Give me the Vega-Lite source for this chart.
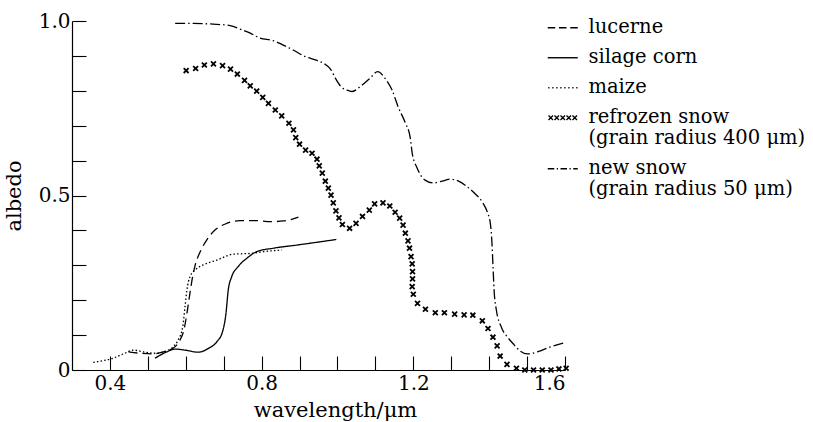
{
  "$schema": "https://vega.github.io/schema/vega-lite/v6.json",
  "width": 493,
  "height": 349,
  "autosize": {"type": "none"},
  "padding": {"left": 72, "top": 21, "right": 248, "bottom": 52},
  "background": "white",
  "config": {
    "view": {"stroke": null},
    "font": "DejaVu Serif",
    "axis": {
      "labelFont": "DejaVu Serif", "titleFont": "DejaVu Serif",
      "labelFontSize": 20, "titleFontSize": 21, "titleFontWeight": "normal",
      "labelColor": "#000000", "titleColor": "#000000",
      "domainColor": "black", "tickColor": "black", "domainWidth": 1.2, "tickWidth": 1.1,
      "grid": false, "tickSize": -14
    }
  },
  "data": {"values": [
    {"series": "lucerne", "wavelength": 0.449, "albedo": 0.052},
    {"series": "lucerne", "wavelength": 0.479, "albedo": 0.048},
    {"series": "lucerne", "wavelength": 0.510, "albedo": 0.046},
    {"series": "lucerne", "wavelength": 0.541, "albedo": 0.052},
    {"series": "lucerne", "wavelength": 0.572, "albedo": 0.067},
    {"series": "lucerne", "wavelength": 0.585, "albedo": 0.086},
    {"series": "lucerne", "wavelength": 0.596, "albedo": 0.119},
    {"series": "lucerne", "wavelength": 0.603, "albedo": 0.162},
    {"series": "lucerne", "wavelength": 0.611, "albedo": 0.220},
    {"series": "lucerne", "wavelength": 0.618, "albedo": 0.267},
    {"series": "lucerne", "wavelength": 0.625, "albedo": 0.301},
    {"series": "lucerne", "wavelength": 0.638, "albedo": 0.339},
    {"series": "lucerne", "wavelength": 0.655, "albedo": 0.372},
    {"series": "lucerne", "wavelength": 0.677, "albedo": 0.401},
    {"series": "lucerne", "wavelength": 0.708, "albedo": 0.420},
    {"series": "lucerne", "wavelength": 0.743, "albedo": 0.428},
    {"series": "lucerne", "wavelength": 0.787, "albedo": 0.428},
    {"series": "lucerne", "wavelength": 0.822, "albedo": 0.425},
    {"series": "lucerne", "wavelength": 0.858, "albedo": 0.427},
    {"series": "lucerne", "wavelength": 0.897, "albedo": 0.438},
    {"series": "silage corn", "wavelength": 0.519, "albedo": 0.034},
    {"series": "silage corn", "wavelength": 0.550, "albedo": 0.052},
    {"series": "silage corn", "wavelength": 0.572, "albedo": 0.060},
    {"series": "silage corn", "wavelength": 0.598, "albedo": 0.057},
    {"series": "silage corn", "wavelength": 0.633, "albedo": 0.051},
    {"series": "silage corn", "wavelength": 0.660, "albedo": 0.062},
    {"series": "silage corn", "wavelength": 0.682, "albedo": 0.081},
    {"series": "silage corn", "wavelength": 0.697, "albedo": 0.110},
    {"series": "silage corn", "wavelength": 0.706, "albedo": 0.162},
    {"series": "silage corn", "wavelength": 0.712, "albedo": 0.229},
    {"series": "silage corn", "wavelength": 0.721, "albedo": 0.267},
    {"series": "silage corn", "wavelength": 0.738, "albedo": 0.296},
    {"series": "silage corn", "wavelength": 0.763, "albedo": 0.322},
    {"series": "silage corn", "wavelength": 0.787, "albedo": 0.339},
    {"series": "silage corn", "wavelength": 0.831, "albedo": 0.349},
    {"series": "silage corn", "wavelength": 0.893, "albedo": 0.358},
    {"series": "silage corn", "wavelength": 0.946, "albedo": 0.366},
    {"series": "silage corn", "wavelength": 0.997, "albedo": 0.374},
    {"series": "maize", "wavelength": 0.356, "albedo": 0.022},
    {"series": "maize", "wavelength": 0.383, "albedo": 0.027},
    {"series": "maize", "wavelength": 0.409, "albedo": 0.034},
    {"series": "maize", "wavelength": 0.435, "albedo": 0.046},
    {"series": "maize", "wavelength": 0.462, "albedo": 0.057},
    {"series": "maize", "wavelength": 0.488, "albedo": 0.052},
    {"series": "maize", "wavelength": 0.515, "albedo": 0.048},
    {"series": "maize", "wavelength": 0.541, "albedo": 0.052},
    {"series": "maize", "wavelength": 0.567, "albedo": 0.067},
    {"series": "maize", "wavelength": 0.580, "albedo": 0.086},
    {"series": "maize", "wavelength": 0.592, "albedo": 0.124},
    {"series": "maize", "wavelength": 0.598, "albedo": 0.181},
    {"series": "maize", "wavelength": 0.603, "albedo": 0.229},
    {"series": "maize", "wavelength": 0.611, "albedo": 0.267},
    {"series": "maize", "wavelength": 0.625, "albedo": 0.287},
    {"series": "maize", "wavelength": 0.646, "albedo": 0.301},
    {"series": "maize", "wavelength": 0.682, "albedo": 0.315},
    {"series": "maize", "wavelength": 0.726, "albedo": 0.332},
    {"series": "maize", "wavelength": 0.770, "albedo": 0.334},
    {"series": "maize", "wavelength": 0.805, "albedo": 0.339},
    {"series": "maize", "wavelength": 0.853, "albedo": 0.344},
    {"series": "refrozen snow", "wavelength": 0.601, "albedo": 0.858},
    {"series": "refrozen snow", "wavelength": 0.626, "albedo": 0.864},
    {"series": "refrozen snow", "wavelength": 0.649, "albedo": 0.874},
    {"series": "refrozen snow", "wavelength": 0.673, "albedo": 0.877},
    {"series": "refrozen snow", "wavelength": 0.697, "albedo": 0.872},
    {"series": "refrozen snow", "wavelength": 0.718, "albedo": 0.862},
    {"series": "refrozen snow", "wavelength": 0.736, "albedo": 0.848},
    {"series": "refrozen snow", "wavelength": 0.755, "albedo": 0.830},
    {"series": "refrozen snow", "wavelength": 0.770, "albedo": 0.814},
    {"series": "refrozen snow", "wavelength": 0.787, "albedo": 0.799},
    {"series": "refrozen snow", "wavelength": 0.803, "albedo": 0.781},
    {"series": "refrozen snow", "wavelength": 0.818, "albedo": 0.764},
    {"series": "refrozen snow", "wavelength": 0.836, "albedo": 0.745},
    {"series": "refrozen snow", "wavelength": 0.853, "albedo": 0.728},
    {"series": "refrozen snow", "wavelength": 0.872, "albedo": 0.707},
    {"series": "refrozen snow", "wavelength": 0.884, "albedo": 0.688},
    {"series": "refrozen snow", "wavelength": 0.890, "albedo": 0.666},
    {"series": "refrozen snow", "wavelength": 0.900, "albedo": 0.647},
    {"series": "refrozen snow", "wavelength": 0.916, "albedo": 0.630},
    {"series": "refrozen snow", "wavelength": 0.933, "albedo": 0.621},
    {"series": "refrozen snow", "wavelength": 0.946, "albedo": 0.604},
    {"series": "refrozen snow", "wavelength": 0.952, "albedo": 0.585},
    {"series": "refrozen snow", "wavelength": 0.960, "albedo": 0.564},
    {"series": "refrozen snow", "wavelength": 0.968, "albedo": 0.541},
    {"series": "refrozen snow", "wavelength": 0.976, "albedo": 0.521},
    {"series": "refrozen snow", "wavelength": 0.983, "albedo": 0.501},
    {"series": "refrozen snow", "wavelength": 0.989, "albedo": 0.479},
    {"series": "refrozen snow", "wavelength": 0.996, "albedo": 0.456},
    {"series": "refrozen snow", "wavelength": 1.004, "albedo": 0.436},
    {"series": "refrozen snow", "wavelength": 1.013, "albedo": 0.417},
    {"series": "refrozen snow", "wavelength": 1.032, "albedo": 0.406},
    {"series": "refrozen snow", "wavelength": 1.049, "albedo": 0.420},
    {"series": "refrozen snow", "wavelength": 1.066, "albedo": 0.440},
    {"series": "refrozen snow", "wavelength": 1.084, "albedo": 0.458},
    {"series": "refrozen snow", "wavelength": 1.098, "albedo": 0.476},
    {"series": "refrozen snow", "wavelength": 1.120, "albedo": 0.479},
    {"series": "refrozen snow", "wavelength": 1.138, "albedo": 0.470},
    {"series": "refrozen snow", "wavelength": 1.152, "albedo": 0.452},
    {"series": "refrozen snow", "wavelength": 1.164, "albedo": 0.435},
    {"series": "refrozen snow", "wavelength": 1.173, "albedo": 0.415},
    {"series": "refrozen snow", "wavelength": 1.179, "albedo": 0.392},
    {"series": "refrozen snow", "wavelength": 1.186, "albedo": 0.370},
    {"series": "refrozen snow", "wavelength": 1.190, "albedo": 0.349},
    {"series": "refrozen snow", "wavelength": 1.194, "albedo": 0.325},
    {"series": "refrozen snow", "wavelength": 1.197, "albedo": 0.304},
    {"series": "refrozen snow", "wavelength": 1.198, "albedo": 0.282},
    {"series": "refrozen snow", "wavelength": 1.198, "albedo": 0.261},
    {"series": "refrozen snow", "wavelength": 1.197, "albedo": 0.239},
    {"series": "refrozen snow", "wavelength": 1.200, "albedo": 0.217},
    {"series": "refrozen snow", "wavelength": 1.211, "albedo": 0.191},
    {"series": "refrozen snow", "wavelength": 1.232, "albedo": 0.174},
    {"series": "refrozen snow", "wavelength": 1.258, "albedo": 0.164},
    {"series": "refrozen snow", "wavelength": 1.282, "albedo": 0.164},
    {"series": "refrozen snow", "wavelength": 1.309, "albedo": 0.160},
    {"series": "refrozen snow", "wavelength": 1.334, "albedo": 0.158},
    {"series": "refrozen snow", "wavelength": 1.357, "albedo": 0.157},
    {"series": "refrozen snow", "wavelength": 1.382, "albedo": 0.141},
    {"series": "refrozen snow", "wavelength": 1.397, "albedo": 0.119},
    {"series": "refrozen snow", "wavelength": 1.410, "albedo": 0.094},
    {"series": "refrozen snow", "wavelength": 1.421, "albedo": 0.069},
    {"series": "refrozen snow", "wavelength": 1.429, "albedo": 0.040},
    {"series": "refrozen snow", "wavelength": 1.447, "albedo": 0.016},
    {"series": "refrozen snow", "wavelength": 1.472, "albedo": 0.005},
    {"series": "refrozen snow", "wavelength": 1.494, "albedo": 0.0},
    {"series": "refrozen snow", "wavelength": 1.517, "albedo": 0.0},
    {"series": "refrozen snow", "wavelength": 1.540, "albedo": 0.0},
    {"series": "refrozen snow", "wavelength": 1.563, "albedo": 0.0},
    {"series": "refrozen snow", "wavelength": 1.584, "albedo": 0.003},
    {"series": "refrozen snow", "wavelength": 1.603, "albedo": 0.005},
    {"series": "new snow", "wavelength": 0.572, "albedo": 0.993},
    {"series": "new snow", "wavelength": 0.619, "albedo": 0.993},
    {"series": "new snow", "wavelength": 0.672, "albedo": 0.991},
    {"series": "new snow", "wavelength": 0.717, "albedo": 0.987},
    {"series": "new snow", "wavelength": 0.743, "albedo": 0.977},
    {"series": "new snow", "wavelength": 0.770, "albedo": 0.965},
    {"series": "new snow", "wavelength": 0.796, "albedo": 0.951},
    {"series": "new snow", "wavelength": 0.830, "albedo": 0.944},
    {"series": "new snow", "wavelength": 0.857, "albedo": 0.931},
    {"series": "new snow", "wavelength": 0.883, "albedo": 0.917},
    {"series": "new snow", "wavelength": 0.915, "albedo": 0.898},
    {"series": "new snow", "wavelength": 0.946, "albedo": 0.887},
    {"series": "new snow", "wavelength": 0.970, "albedo": 0.874},
    {"series": "new snow", "wavelength": 0.983, "albedo": 0.860},
    {"series": "new snow", "wavelength": 0.994, "albedo": 0.837},
    {"series": "new snow", "wavelength": 1.010, "albedo": 0.811},
    {"series": "new snow", "wavelength": 1.028, "albedo": 0.801},
    {"series": "new snow", "wavelength": 1.039, "albedo": 0.798},
    {"series": "new snow", "wavelength": 1.060, "albedo": 0.812},
    {"series": "new snow", "wavelength": 1.086, "albedo": 0.836},
    {"series": "new snow", "wavelength": 1.106, "albedo": 0.855},
    {"series": "new snow", "wavelength": 1.126, "albedo": 0.835},
    {"series": "new snow", "wavelength": 1.144, "albedo": 0.802},
    {"series": "new snow", "wavelength": 1.160, "albedo": 0.754},
    {"series": "new snow", "wavelength": 1.179, "albedo": 0.708},
    {"series": "new snow", "wavelength": 1.192, "albedo": 0.665},
    {"series": "new snow", "wavelength": 1.197, "albedo": 0.622},
    {"series": "new snow", "wavelength": 1.210, "albedo": 0.579},
    {"series": "new snow", "wavelength": 1.231, "albedo": 0.544},
    {"series": "new snow", "wavelength": 1.252, "albedo": 0.536},
    {"series": "new snow", "wavelength": 1.279, "albedo": 0.542},
    {"series": "new snow", "wavelength": 1.297, "albedo": 0.547},
    {"series": "new snow", "wavelength": 1.318, "albedo": 0.542},
    {"series": "new snow", "wavelength": 1.340, "albedo": 0.527},
    {"series": "new snow", "wavelength": 1.361, "albedo": 0.507},
    {"series": "new snow", "wavelength": 1.382, "albedo": 0.481},
    {"series": "new snow", "wavelength": 1.395, "albedo": 0.453},
    {"series": "new snow", "wavelength": 1.403, "albedo": 0.421},
    {"series": "new snow", "wavelength": 1.407, "albedo": 0.372},
    {"series": "new snow", "wavelength": 1.410, "albedo": 0.301},
    {"series": "new snow", "wavelength": 1.413, "albedo": 0.229},
    {"series": "new snow", "wavelength": 1.419, "albedo": 0.172},
    {"series": "new snow", "wavelength": 1.432, "albedo": 0.123},
    {"series": "new snow", "wavelength": 1.450, "albedo": 0.092},
    {"series": "new snow", "wavelength": 1.466, "albedo": 0.072},
    {"series": "new snow", "wavelength": 1.482, "albedo": 0.054},
    {"series": "new snow", "wavelength": 1.501, "albedo": 0.046},
    {"series": "new snow", "wavelength": 1.527, "albedo": 0.052},
    {"series": "new snow", "wavelength": 1.561, "albedo": 0.066},
    {"series": "new snow", "wavelength": 1.601, "albedo": 0.079}
  ]},
  "encoding": {
    "x": {
      "field": "wavelength", "type": "quantitative",
      "scale": {"domain": [0.3, 1.6], "nice": false, "zero": false},
      "axis": {
        "title": "wavelength/μm",
        "values": [0.4, 0.5, 0.6, 0.7, 0.8, 0.9, 1.0, 1.1, 1.2, 1.3, 1.4, 1.5, 1.6],
        "labelExpr": "indexof(['0.4','0.8','1.2','1.6'], format(datum.value, '.1f')) >= 0 ? format(datum.value, '.1f') : ''",
        "labelPadding": 17, "titlePadding": 6, "titleX": 263, "titleColor": "#000000"
      }
    },
    "y": {
      "field": "albedo", "type": "quantitative",
      "scale": {"domain": [0, 1], "nice": false},
      "axis": {
        "title": "albedo",
        "values": [0, 0.1, 0.2, 0.3, 0.4, 0.5, 0.6, 0.7, 0.8, 0.9, 1.0],
        "labelExpr": "datum.value == 0 ? '0' : datum.value == 0.5 ? '0.5' : datum.value == 1 ? '1.0' : ''",
        "labelPadding": 16, "titlePadding": 14, "titleColor": "#000000"
      }
    }
  },
  "layer": [
    {
      "transform": [{"filter": "datum.series != 'refrozen snow'"}],
      "mark": {"type": "line", "color": "black", "strokeWidth": 1.3, "interpolate": "monotone"},
      "encoding": {
        "strokeDash": {
          "field": "series", "type": "nominal",
          "scale": {"domain": ["lucerne", "silage corn", "maize", "new snow"], "range": [[9, 5], [1, 0], [1.5, 2.2], [10, 3, 1.5, 3]]},
          "legend": null
        }
      }
    },
    {
      "transform": [{"filter": "datum.series == 'refrozen snow'"}],
      "mark": {"type": "point", "shape": "M-1,-1L1,1M-1,1L1,-1", "size": 24, "filled": false, "color": "black", "strokeWidth": 1.8, "opacity": 1}
    },
    {
      "transform": [{"filter": "datum.albedo > 5"}],
      "mark": {"type": "point", "filled": false, "color": "black", "size": 100, "strokeWidth": 1.3, "opacity": 1},
      "encoding": {
        "shape": {
          "field": "series", "type": "nominal",
          "scale": {
            "domain": ["lucerne", "silage corn", "maize", "refrozen snow", "new snow"],
            "range": [
              "M-3,-1H-1.5M-0.75,-1H0.75M1.5,-1H3",
              "M-3,-1H3",
              "M-2.9,-1h0.25M-2.1,-1h0.25M-1.3,-1h0.25M-0.5,-1h0.25M0.3,-1h0.25M1.1,-1h0.25M1.9,-1h0.25M2.7,-1h0.25",
              "M-2.85,-1.45L-1.95,-0.55M-2.85,-0.55L-1.95,-1.45M-1.65,-1.45L-0.75,-0.55M-1.65,-0.55L-0.75,-1.45M-0.45,-1.45L0.45,-0.55M-0.45,-0.55L0.45,-1.45M0.75,-1.45L1.65,-0.55M0.75,-0.55L1.65,-1.45M1.95,-1.45L2.85,-0.55M1.95,-0.55L2.85,-1.45",
              "M-3,-1H-1.7M-1.2,-1H-0.95M-0.45,-1H0.85M1.35,-1H1.6M2.1,-1H3"
            ]
          },
          "legend": {
            "orient": "none", "legendX": 481, "legendY": 2, "title": null,
            "labelFont": "DejaVu Serif", "labelFontSize": 19.5, "labelColor": "black",
            "labelLimit": 0, "labelOffset": 16, "labelBaseline": "alphabetic",
            "rowPadding": 9, "symbolSize": 100, "symbolStrokeWidth": 1.4,
            "symbolStrokeColor": "black", "symbolFillColor": "transparent",
            "labelExpr": "datum.label == 'refrozen snow' ? ['refrozen snow', '(grain radius 400 μm)'] : datum.label == 'new snow' ? ['new snow', '(grain radius 50 μm)'] : datum.label"
          }
        }
      }
    }
  ]
}
